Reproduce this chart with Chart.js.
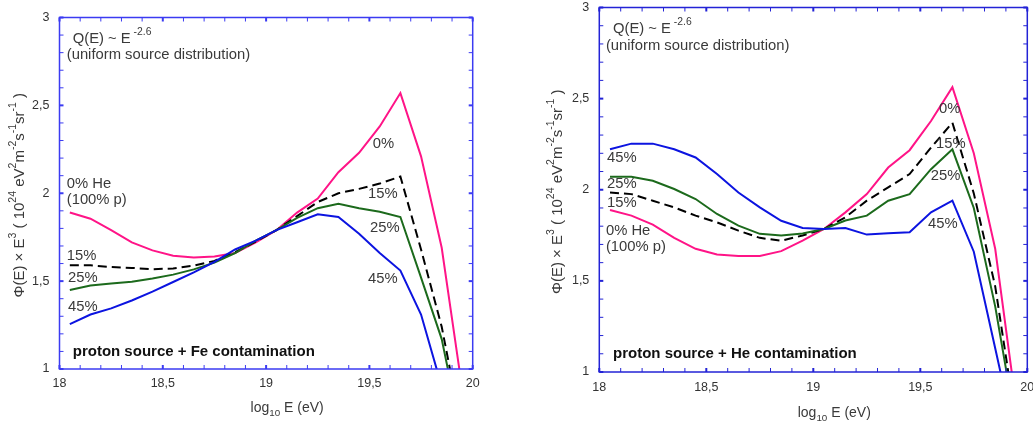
<!DOCTYPE html>
<html>
<head>
<meta charset="utf-8">
<title>Proton source + Fe / He contamination</title>
<script src="https://cdn.jsdelivr.net/npm/chart.js@4.4.0/dist/chart.umd.min.js"></script>
<style>
  html, body { margin: 0; padding: 0; background: #fff; overflow: hidden; width: 1033px; height: 430px; }
  .panel { position: absolute; }
  #panel-fe { left: 0; top: 0; width: 500px; height: 430px; }
  #panel-he { left: 520px; top: -10px; width: 530px; height: 440px; }
</style>
</head>
<body>
<div class="panel" id="panel-fe"><canvas id="chart-fe" width="500" height="430"></canvas></div>
<div class="panel" id="panel-he"><canvas id="chart-he" width="530" height="440"></canvas></div>
<script>
// log10 E (eV) sample points, shared by every curve
const ENERGY = [18.05, 18.15, 18.25, 18.35, 18.45, 18.55, 18.65, 18.75, 18.85, 18.95,
                19.05, 19.15, 19.25, 19.35, 19.45, 19.55, 19.65, 19.75, 19.85, 19.95];

// left panel: proton source + Fe contamination
const FE_0  = [1.89, 1.855, 1.79, 1.72, 1.675, 1.645, 1.635, 1.64, 1.66, 1.72, 1.79, 1.89, 1.97, 2.12, 2.23, 2.38, 2.57, 2.21, 1.69, 0.88];
const FE_15 = [1.59, 1.59, 1.58, 1.575, 1.568, 1.572, 1.588, 1.615, 1.665, 1.725, 1.79, 1.87, 1.95, 2.0, 2.025, 2.055, 2.095, 1.68, 1.24, 0.64];
const FE_25 = [1.45, 1.475, 1.487, 1.497, 1.515, 1.537, 1.567, 1.605, 1.66, 1.73, 1.79, 1.86, 1.915, 1.94, 1.915, 1.895, 1.865, 1.52, 1.17, 0.6];
const FE_45 = [1.255, 1.31, 1.345, 1.39, 1.44, 1.495, 1.55, 1.61, 1.68, 1.73, 1.79, 1.835, 1.88, 1.865, 1.77, 1.66, 1.56, 1.31, 0.9, 0.49];

// right panel: proton source + He contamination
const HE_0  = [1.889, 1.858, 1.809, 1.736, 1.676, 1.645, 1.636, 1.636, 1.663, 1.721, 1.785, 1.876, 1.976, 2.122, 2.217, 2.377, 2.563, 2.2, 1.676, 0.8];
const HE_15 = [1.985, 1.976, 1.94, 1.903, 1.858, 1.821, 1.776, 1.736, 1.72, 1.749, 1.785, 1.849, 1.94, 2.013, 2.086, 2.231, 2.368, 1.98, 1.47, 0.7];
const HE_25 = [2.071, 2.071, 2.049, 2.004, 1.949, 1.867, 1.803, 1.758, 1.749, 1.76, 1.785, 1.831, 1.858, 1.94, 1.976, 2.113, 2.222, 1.9, 1.36, 0.68];
const HE_45 = [2.222, 2.253, 2.253, 2.222, 2.177, 2.086, 1.985, 1.903, 1.83, 1.79, 1.785, 1.79, 1.754, 1.761, 1.767, 1.876, 1.94, 1.66, 1.13, 0.6];

// axis ranges and ticks
const X_RANGE = [18, 20];
const Y_RANGE = [1, 3];
const TICK_STEP = 0.1;

const FONT = '"Liberation Sans", Arial, Helvetica, sans-serif';
const TEXT = '#3a3a3a';

// text notes inside the frames (placed in axis units)
const FE_NOTES = [
    { parts: ['Q(E) ~ E', [' -2.6', 'sup']], x: 18.064, y: 2.877 },
    { parts: ['(uniform source distribution)'], x: 18.035, y: 2.785 },
    { parts: ['0% He'], x: 18.035, y: 2.051 },
    { parts: ['(100% p)'], x: 18.035, y: 1.96 },
    { parts: ['15%'], x: 18.035, y: 1.644 },
    { parts: ['25%'], x: 18.041, y: 1.518 },
    { parts: ['45%'], x: 18.041, y: 1.352 },
    { parts: ['0%'], x: 19.516, y: 2.279 },
    { parts: ['15%'], x: 19.493, y: 1.994 },
    { parts: ['25%'], x: 19.503, y: 1.80 },
    { parts: ['45%'], x: 19.493, y: 1.514 },
    { parts: ['proton source + Fe contamination'], x: 18.064, y: 1.096, bold: true }
];
const HE_NOTES = [
    { parts: ['Q(E) ~ E', [' -2.6', 'sup']], x: 18.064, y: 2.885 },
    { parts: ['(uniform source distribution)'], x: 18.031, y: 2.787 },
    { parts: ['45%'], x: 18.036, y: 2.175 },
    { parts: ['25%'], x: 18.036, y: 2.033 },
    { parts: ['15%'], x: 18.036, y: 1.929 },
    { parts: ['0% He'], x: 18.031, y: 1.776 },
    { parts: ['(100% p)'], x: 18.031, y: 1.689 },
    { parts: ['0%'], x: 19.587, y: 2.443 },
    { parts: ['15%'], x: 19.573, y: 2.251 },
    { parts: ['25%'], x: 19.549, y: 2.077 },
    { parts: ['45%'], x: 19.536, y: 1.814 },
    { parts: ['proton source + He contamination'], x: 18.064, y: 1.098, bold: true }
];

const Y_TITLE = ['\u03A6(E) \u00D7 E', ['3', 'sup'], ' ( 10', ['24', 'sup'], ' eV', ['2', 'sup'], 'm', ['-2', 'sup'],
                 's', ['-1', 'sup'], 'sr', ['-1', 'sup'], ' )'];
const X_TITLE = ['log', ['10', 'sub'], ' E (eV)'];

// --- helpers ---

function isMajor(v) {
    return Math.abs(v * 2 - Math.round(v * 2)) < 1e-6;
}

function fmtTick(v) {
    return isMajor(v) ? String(+v.toFixed(1)).replace('.', ',') : '';
}

function partsOf(p) {
    return Array.isArray(p) ? p : [p, ''];
}

function richWidth(ctx, parts, size, weight) {
    let w = 0;
    parts.forEach(p => {
        const [text, kind] = partsOf(p);
        ctx.font = `${weight} ${kind ? size * 0.7 : size}px ${FONT}`;
        w += ctx.measureText(text).width;
    });
    return w;
}

function drawRich(ctx, parts, x, y, size, weight) {
    let cx = x;
    parts.forEach(p => {
        const [text, kind] = partsOf(p);
        ctx.font = `${weight} ${kind ? size * 0.7 : size}px ${FONT}`;
        const dy = kind === 'sup' ? -size * 0.45 : kind === 'sub' ? size * 0.35 : 0;
        ctx.fillText(text, cx, y + dy);
        cx += ctx.measureText(text).width;
    });
}

// blue frame with inward ticks on all four sides
const framePlugin = {
    id: 'frame',
    afterDatasetsDraw(chart, args, opts) {
        const { ctx, chartArea: a, scales: { x, y } } = chart;
        ctx.save();
        ctx.strokeStyle = opts.color;
        const seg = (x1, y1, x2, y2) => { ctx.beginPath(); ctx.moveTo(x1, y1); ctx.lineTo(x2, y2); ctx.stroke(); };
        x.ticks.forEach(t => {
            const px = x.getPixelForValue(t.value);
            ctx.lineWidth = isMajor(t.value) ? 2 : 1;
            seg(px, a.bottom, px, a.bottom - 4);
            seg(px, a.top, px, a.top + 4);
        });
        y.ticks.forEach(t => {
            const py = y.getPixelForValue(t.value);
            ctx.lineWidth = isMajor(t.value) ? 2 : 1;
            seg(a.left, py, a.left + 4, py);
            seg(a.right, py, a.right - 4, py);
        });
        ctx.lineWidth = 1.5;
        ctx.strokeRect(a.left, a.top, a.width, a.height);
        ctx.restore();
    }
};

// notes and axis titles with super/subscripts
const textPlugin = {
    id: 'notes',
    afterDraw(chart, args, opts) {
        const { ctx, chartArea: a, scales: { x, y } } = chart;
        ctx.save();
        ctx.textBaseline = 'middle';
        ctx.textAlign = 'left';
        opts.notes.forEach(n => {
            ctx.fillStyle = n.bold ? '#111' : TEXT;
            drawRich(ctx, n.parts, x.getPixelForValue(n.x), y.getPixelForValue(n.y), n.bold ? 15 : 14.8, n.bold ? 'bold' : 'normal');
        });
        ctx.fillStyle = TEXT;
        // x title
        const xw = richWidth(ctx, X_TITLE, 14, 'normal');
        drawRich(ctx, X_TITLE, (a.left + a.right) / 2 + 21 - xw / 2, a.bottom + opts.xTitleGap, 14, 'normal');
        // y title, rotated
        const yw = richWidth(ctx, Y_TITLE, 15, 'normal');
        ctx.translate(a.left - opts.yTitleGap, (a.top + a.bottom) / 2 + 2);
        ctx.rotate(-Math.PI / 2);
        drawRich(ctx, Y_TITLE, -yw / 2, 0, 15, 'normal');
        ctx.restore();
    }
};

function series(values, color, dashed) {
    return {
        data: values.map((v, i) => ({ x: ENERGY[i], y: v })),
        borderColor: color,
        borderWidth: 2,
        borderDash: dashed ? [9, 5] : [],
        pointRadius: 0,
        tension: 0,
        fill: false
    };
}

function makeChart(id, curves, notes, layout) {
    return new Chart(document.getElementById(id), {
        type: 'line',
        data: {
            // blue first so it sits on top, as in the figure
            datasets: [
                series(curves[3], '#0c14e0', false),
                series(curves[2], '#1c6a1c', false),
                series(curves[1], '#000000', true),
                series(curves[0], '#ff1487', false)
            ]
        },
        options: {
            responsive: false,
            animation: false,
            layout: { padding: { top: layout.top, right: layout.right, left: 0, bottom: 0 } },
            plugins: {
                legend: { display: false },
                tooltip: { enabled: false },
                frame: { color: layout.frame },
                notes: { notes: notes, xTitleGap: layout.xTitleGap, yTitleGap: layout.yTitleGap }
            },
            scales: {
                x: {
                    type: 'linear', min: X_RANGE[0], max: X_RANGE[1],
                    grid: { display: false, drawTicks: false }, border: { display: false },
                    ticks: { stepSize: TICK_STEP, autoSkip: false, maxRotation: 0, padding: layout.xPad,
                             color: '#333', font: { size: 12.5, family: FONT }, callback: fmtTick },
                    afterFit: s => { s.height = layout.xAxis; }
                },
                y: {
                    type: 'linear', min: Y_RANGE[0], max: Y_RANGE[1],
                    grid: { display: false, drawTicks: false }, border: { display: false },
                    ticks: { stepSize: TICK_STEP, autoSkip: false, padding: 10,
                             color: '#333', font: { size: 12.5, family: FONT }, callback: fmtTick },
                    afterFit: s => { s.width = layout.yAxis; }
                }
            }
        },
        plugins: [framePlugin, textPlugin]
    });
}

makeChart('chart-fe', [FE_0, FE_15, FE_25, FE_45], FE_NOTES,
    { top: 15, right: 27.3, yAxis: 59.5, xAxis: 61, xPad: 7, xTitleGap: 39, yTitleGap: 39.5, frame: '#3b3bf2' });
makeChart('chart-he', [HE_0, HE_15, HE_25, HE_45], HE_NOTES,
    { top: 16, right: 22.7, yAxis: 79.3, xAxis: 58, xPad: 8, xTitleGap: 41, yTitleGap: 41, frame: '#2323d6' });
</script>
</body>
</html>
